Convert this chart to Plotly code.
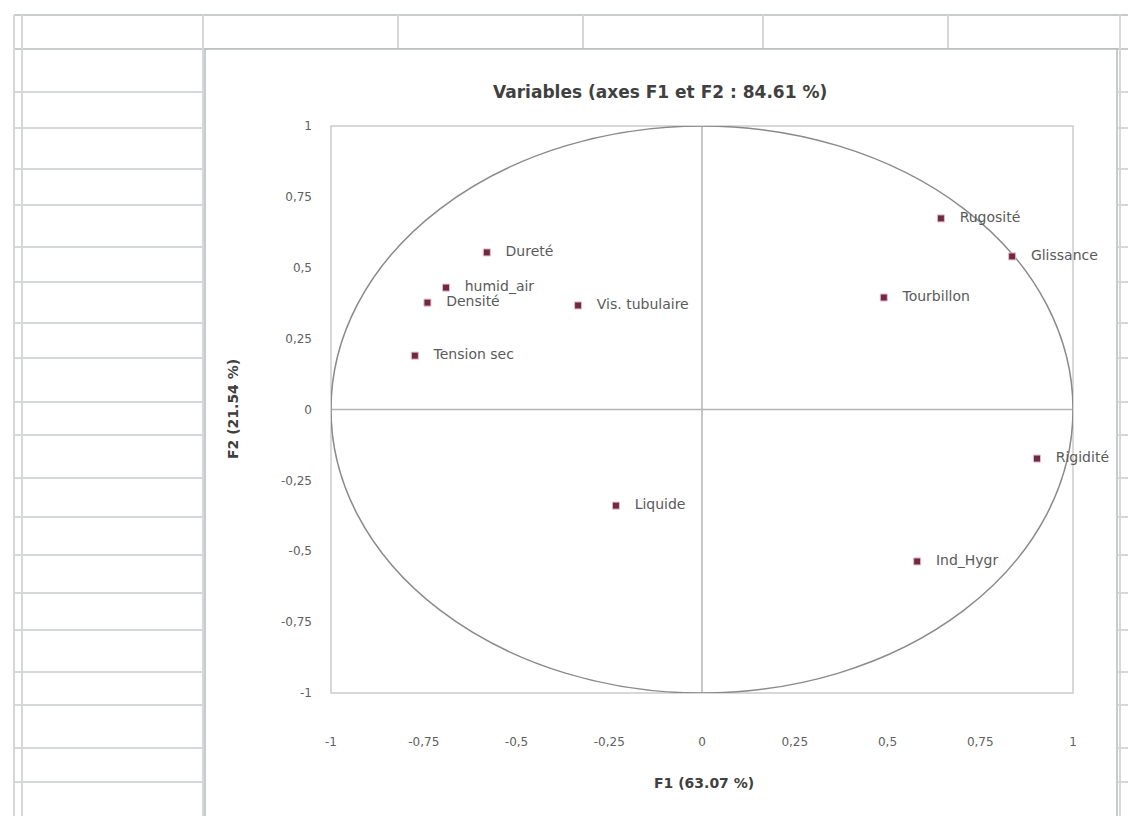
import plotly.graph_objects as go

# ---- data ----
variables = ["Dureté", "humid_air", "Densité", "Vis. tubulaire", "Tension sec",
             "Liquide", "Rugosité", "Glissance", "Tourbillon", "Rigidité", "Ind_Hygr"]
f1 = [-0.58, -0.69, -0.74, -0.334, -0.774, -0.232, 0.644, 0.836, 0.49, 0.903, 0.58]
f2 = [0.554, 0.43, 0.377, 0.367, 0.19, -0.339, 0.674, 0.54, 0.395, -0.173, -0.536]
tick_vals = [-1, -0.75, -0.5, -0.25, 0, 0.25, 0.5, 0.75, 1]
tick_text = ["-1", "-0,75", "-0,5", "-0,25", "0", "0,25", "0,5", "0,75", "1"]
title_text = "Variables (axes F1 et F2 : 84.61 %)"
x_title = "F1 (63.07 %)"
y_title = "F2 (21.54 %)"

# ---- layout geometry (pixels); page body has an 8px margin ----
OFF = 8
W, H = 1136, 816
L, T = 331 - OFF, 126 - OFF
PW, PH = 742, 567
R, B = W - L - PW, H - T - PH


def px(x):
    return (x - OFF - L) / PW


def py(y):
    return (H - B - (y - OFF)) / PH


shapes = []
grid_col = "#d4d8d8"
row_lines = [92, 128, 169, 205, 247, 282, 323, 358, 402, 435, 478, 517, 555,
             593, 630, 672, 705, 748, 782]
for yy in [15, 49]:
    shapes.append(dict(type="line", xref="paper", yref="paper", x0=px(14), x1=px(1140),
                       y0=py(yy), y1=py(yy), line=dict(color="#c8cccc", width=2), layer="below"))
for yy in row_lines:
    shapes.append(dict(type="line", xref="paper", yref="paper", x0=px(14), x1=px(203),
                       y0=py(yy), y1=py(yy), line=dict(color=grid_col, width=2), layer="below"))
    shapes.append(dict(type="line", xref="paper", yref="paper", x0=px(1118), x1=px(1140),
                       y0=py(yy), y1=py(yy), line=dict(color=grid_col, width=2), layer="below"))
for xx in [14, 22, 203, 1120]:
    shapes.append(dict(type="line", xref="paper", yref="paper", x0=px(xx), x1=px(xx),
                       y0=py(15), y1=py(820), line=dict(color=grid_col, width=2), layer="below"))
for xx in [398, 583, 763, 948]:
    shapes.append(dict(type="line", xref="paper", yref="paper", x0=px(xx), x1=px(xx),
                       y0=py(15), y1=py(49), line=dict(color=grid_col, width=2), layer="below"))
# chart area
shapes.append(dict(type="rect", xref="paper", yref="paper", x0=px(205), x1=px(1117),
                   y0=py(820), y1=py(49), fillcolor="white",
                   line=dict(color="#b8bcbc", width=1.5), layer="below"))
# plot area border
shapes.append(dict(type="rect", xref="paper", yref="paper", x0=0, x1=1, y0=0, y1=1,
                   line=dict(color="#cccccc", width=1.5), layer="below"))
# zero lines
shapes.append(dict(type="line", xref="x", yref="y", x0=0, x1=0, y0=-1, y1=1,
                   line=dict(color="#b4b4b4", width=1.5), layer="below"))
shapes.append(dict(type="line", xref="x", yref="y", x0=-1, x1=1, y0=0, y1=0,
                   line=dict(color="#b4b4b4", width=1.5), layer="below"))
# correlation circle
shapes.append(dict(type="circle", xref="x", yref="y", x0=-1, x1=1, y0=-1, y1=1,
                   line=dict(color="#8a8a8a", width=1.5), layer="below"))

fig = go.Figure()
fig.add_trace(go.Scatter(
    x=f1, y=f2, mode="markers+text",
    text=["   " + v for v in variables], textposition="middle right",
    textfont=dict(family="DejaVu Sans", size=14, color="#5a5a5a"),
    marker=dict(symbol="square", size=7, color="#6e2a40",
                line=dict(color="#e8b8c8", width=1)),
    cliponaxis=False, showlegend=False, hoverinfo="skip",
))

fig.update_layout(
    width=W, height=H,
    margin=dict(l=L, r=R, t=T, b=B),
    paper_bgcolor="white", plot_bgcolor="rgba(0,0,0,0)",
    shapes=shapes,
    xaxis=dict(range=[-1, 1], tickvals=tick_vals, ticktext=tick_text,
               showgrid=False, zeroline=False, showline=False, ticks="",
               ticklabelstandoff=40,
               tickfont=dict(family="DejaVu Sans", size=12, color="#606060")),
    yaxis=dict(range=[-1, 1], tickvals=tick_vals, ticktext=tick_text,
               showgrid=False, zeroline=False, showline=False, ticks="",
               ticklabelstandoff=18,
               tickfont=dict(family="DejaVu Sans", size=12, color="#606060")),
    annotations=[
        dict(text="<b>" + title_text + "</b>", xref="paper", yref="paper",
             x=px(660), y=py(92), showarrow=False, xanchor="center", yanchor="middle",
             font=dict(family="DejaVu Sans", size=17, color="#404040")),
        dict(text="<b>" + x_title + "</b>", xref="paper", yref="paper",
             x=px(704), y=py(783), showarrow=False, xanchor="center", yanchor="middle",
             font=dict(family="DejaVu Sans", size=14, color="#404040")),
        dict(text="<b>" + y_title + "</b>", xref="paper", yref="paper",
             x=px(233), y=py(409), showarrow=False, xanchor="center", yanchor="middle",
             textangle=-90,
             font=dict(family="DejaVu Sans", size=14, color="#404040")),
    ],
)

fig.write_html("out.html")
